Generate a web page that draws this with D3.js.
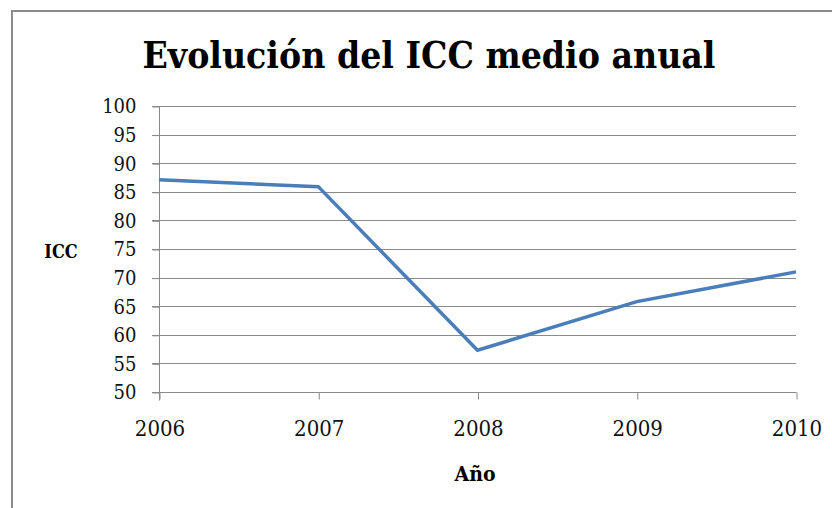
<!DOCTYPE html>
<html>
<head>
<meta charset="utf-8">
<script src="https://cdn.jsdelivr.net/npm/d3@7"></script>
<style>
  body { margin: 0; background: #fff; }
  svg { display: block; }
</style>
</head>
<body>
<svg width="832" height="508"></svg>
<script>
// data
var years = [2006, 2007, 2008, 2009, 2010];
var icc = [87.1, 85.9, 57.3, 65.8, 71.0];
var yTicks = [50, 55, 60, 65, 70, 75, 80, 85, 90, 95, 100];

var svg = d3.select("svg");
var serif = "'DejaVu Serif Condensed', 'Liberation Serif', serif";

// outer frame (runs off the page on right/bottom)
svg.append("rect")
    .attr("x", 12).attr("y", 11)
    .attr("width", 840).attr("height", 520)
    .attr("fill", "none")
    .attr("stroke", "#8c8c8c")
    .attr("stroke-width", 2);

// plot area
var pLeft = 159, pRight = 796, pTop = 106, pBottom = 392;

var x = d3.scalePoint()
    .domain(years)
    .range([pLeft, pRight]);

var y = d3.scaleLinear()
    .domain([50, 100])
    .range([pBottom, pTop]);

// gridlines
svg.append("g")
    .selectAll("line")
    .data(yTicks)
    .enter()
    .append("line")
        .attr("x1", pLeft - 7)
        .attr("x2", pRight)
        .attr("y1", d => Math.round(y(d)) + 0.5)
        .attr("y2", d => Math.round(y(d)) + 0.5)
        .attr("stroke", "#8a8a8a")
        .attr("stroke-width", 1);

// y axis
var yAxis = d3.axisLeft(y).tickValues(yTicks).tickSize(7).tickPadding(16);
var gy = svg.append("g")
    .attr("transform", "translate(" + (pLeft + 0.5) + ",0.5)")
    .call(yAxis);
gy.select(".domain").attr("d", "M0," + pTop + "V" + (pBottom + 8)).attr("stroke", "#8a8a8a");
gy.selectAll(".tick line").attr("stroke", "#8a8a8a");
gy.selectAll("text")
    .style("font-family", serif)
    .style("font-size", "20px")
    .attr("fill", "#111");

// x axis
var xAxis = d3.axisBottom(x).tickSize(7).tickPadding(21).tickFormat(d3.format("d"));
var gx = svg.append("g")
    .attr("transform", "translate(0.5," + (pBottom + 0.5) + ")")
    .call(xAxis);
gx.select(".domain").attr("d", "M" + pLeft + ",0H" + pRight).attr("stroke", "#8a8a8a");
gx.selectAll(".tick line").attr("stroke", "#8a8a8a");
gx.selectAll("text")
    .style("font-family", serif)
    .style("font-size", "22px")
    .attr("fill", "#111");

// line
var line = d3.line()
    .x((d, i) => x(years[i]))
    .y(d => y(d));

svg.append("path")
    .datum(icc)
    .attr("d", line)
    .attr("fill", "none")
    .attr("stroke", "#4a7ebb")
    .attr("stroke-width", 3.5)
    .attr("stroke-linejoin", "miter");

// title
svg.append("text")
    .attr("x", 429).attr("y", 68)
    .attr("text-anchor", "middle")
    .attr("textLength", 573)
    .attr("lengthAdjust", "spacingAndGlyphs")
    .style("font-family", serif)
    .style("font-weight", "bold")
    .style("font-size", "37px")
    .attr("fill", "#000")
    .text("Evolución del ICC medio anual");

// axis titles
svg.append("text")
    .attr("x", 61).attr("y", 258)
    .attr("text-anchor", "middle")
    .style("font-family", serif)
    .style("font-weight", "bold")
    .style("font-size", "18px")
    .text("ICC");

svg.append("text")
    .attr("x", 475).attr("y", 481)
    .attr("text-anchor", "middle")
    .style("font-family", serif)
    .style("font-weight", "bold")
    .style("font-size", "21px")
    .text("Año");
</script>
</body>
</html>
